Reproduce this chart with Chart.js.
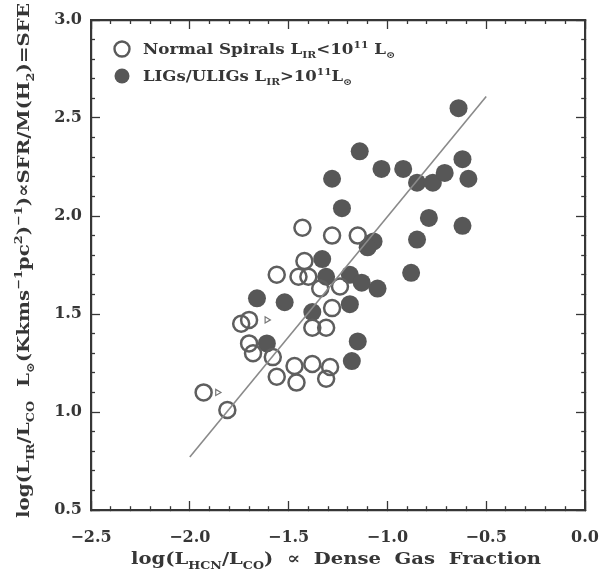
<!DOCTYPE html>
<html>
<head>
<meta charset="utf-8">
<script src="https://cdn.jsdelivr.net/npm/chart.js@4.4.1/dist/chart.umd.min.js"></script>
<style>
html,body{margin:0;padding:0;background:#fff;}
#wrap{width:601px;height:575px;position:relative;}
</style>
</head>
<body>
<div id="wrap"><canvas id="c" width="601" height="575"></canvas></div>
<script>
// ---- Data ----
const normalSpirals = [
  [-1.93,1.10],[-1.81,1.01],[-1.74,1.45],[-1.70,1.47],[-1.70,1.35],[-1.68,1.30],
  [-1.58,1.28],[-1.56,1.18],[-1.56,1.70],[-1.47,1.235],[-1.46,1.15],[-1.43,1.94],
  [-1.42,1.77],[-1.45,1.69],[-1.40,1.69],[-1.38,1.43],[-1.38,1.245],[-1.34,1.63],
  [-1.31,1.43],[-1.29,1.23],[-1.31,1.17],[-1.28,1.53],[-1.28,1.90],[-1.24,1.64],
  [-1.15,1.90]
];
const ligsUligs = [
  [-0.64,2.55],[-1.14,2.33],[-1.28,2.19],[-1.03,2.24],[-0.92,2.24],[-0.85,2.17],
  [-0.77,2.17],[-0.71,2.22],[-0.62,2.29],[-0.59,2.19],[-1.23,2.04],[-0.79,1.99],
  [-0.62,1.95],[-0.85,1.88],[-1.07,1.87],[-1.10,1.84],[-1.33,1.78],[-1.31,1.69],
  [-1.19,1.70],[-1.13,1.66],[-1.05,1.63],[-0.88,1.71],[-1.52,1.56],[-1.66,1.58],
  [-1.38,1.51],[-1.19,1.55],[-1.15,1.36],[-1.18,1.26],[-1.61,1.35]
];
const lowerLimits = [[-1.86,1.10],[-1.61,1.47]];
const fitLine = [[-2.0,0.77],[-0.5,2.61]];
const xTickValues = [-2.5,-2.0,-1.5,-1.0,-0.5,0.0];
const yTickValues = [0.5,1.0,1.5,2.0,2.5,3.0];
const xTitle = [{t:'log(L'},{t:'HCN',s:'sub'},{t:'/L'},{t:'CO',s:'sub'},{t:')  \u221D  Dense  Gas  Fraction'}];
const yTitle = [{t:'log(L'},{t:'IR',s:'sub'},{t:'/L'},{t:'CO',s:'sub'},{t:'  L'},{t:'\u2299',s:'sub'},
  {t:'(Kkms'},{t:'\u22121',s:'sup'},{t:'pc'},{t:'2',s:'sup'},{t:')'},{t:'\u22121',s:'sup'},
  {t:')\u221DSFR/M(H'},{t:'2',s:'sub'},{t:')=SFE'}];
const legendItems = [
  {filled:false, segs:[{t:'Normal Spirals L'},{t:'IR',s:'sub'},{t:'<10'},{t:'11',s:'sup'},{t:' L'},{t:'\u2299',s:'sub'}]},
  {filled:true, segs:[{t:'LIGs/ULIGs L'},{t:'IR',s:'sub'},{t:'>10'},{t:'11',s:'sup'},{t:'L'},{t:'\u2299',s:'sub'}]}
];

const FAMILY = '"DejaVu Serif", serif';
const INK = '#363636';
const toPts = a => a.map(p => ({x:p[0], y:p[1]}));
const round1 = v => Math.round(v * 10) / 10;
const isMajor = v => Math.abs(v * 2 - Math.round(v * 2)) < 1e-6;
const minorSteps = (lo, n) => Array.from({length: n + 1}, (_, i) => ({value: round1(lo + i * 0.1)}));

function segFont(seg, size){ return 'bold ' + (seg.s ? Math.round(size*0.62) : size) + 'px ' + FAMILY; }
function richWidth(ctx, segs, size){
  let w = 0;
  for (const s of segs){ ctx.font = segFont(s,size); w += ctx.measureText(s.t).width; }
  return w;
}
function drawRich(ctx, segs, size, targetW){
  const w = richWidth(ctx, segs, size);
  const sx = targetW ? targetW / w : 1;
  ctx.save();
  ctx.scale(sx, 1);
  let cx = 0;
  for (const s of segs){
    ctx.font = segFont(s,size);
    const dy = s.s === 'sub' ? size*0.32 : (s.s === 'sup' ? -size*0.42 : 0);
    ctx.fillText(s.t, cx, dy);
    cx += ctx.measureText(s.t).width;
  }
  ctx.restore();
}

const textPlugin = {
  id: 'texts',
  afterDraw(chart){
    const ctx = chart.ctx;
    ctx.save();
    ctx.textBaseline = 'alphabetic';
    ctx.textAlign = 'left';
    ctx.fillStyle = INK;
    ctx.save(); ctx.translate(131, 564); drawRich(ctx, xTitle, 17, 410); ctx.restore();
    ctx.save(); ctx.translate(29, 518); ctx.rotate(-Math.PI/2); drawRich(ctx, yTitle, 17, 515); ctx.restore();
    const rows = [{y:49, w:252},{y:76, w:209}];
    legendItems.forEach((it, i) => {
      const r = rows[i];
      ctx.beginPath();
      ctx.arc(122, r.y, 7.5, 0, Math.PI*2);
      if (it.filled){ ctx.fillStyle = '#575757'; ctx.fill(); }
      else { ctx.strokeStyle = '#5a5a5a'; ctx.lineWidth = 2.4; ctx.stroke(); }
      ctx.fillStyle = INK;
      ctx.save(); ctx.translate(143, r.y + 5); drawRich(ctx, it.segs, 14, r.w); ctx.restore();
    });
    ctx.restore();
  }
};

const fmt = v => (v < 0 ? '\u2212' : '') + Math.abs(v).toFixed(1);
const TICK_FONT = {family: FAMILY, size: 16, weight: 'bold'};

// tick marks pointing into the plot: major ticks 9px, minor ticks 5px (via dash)
function gridOpts(startsInside){
  return {
    display: true, drawOnChartArea: false, drawTicks: true, tickLength: -9,
    tickColor: INK, tickWidth: 1.3,
    tickBorderDash: c => (c.tick && isMajor(c.tick.value)) ? [] : [5, 100],
    tickBorderDashOffset: c => (c.tick && isMajor(c.tick.value)) ? 0 : (startsInside ? 100 : 0)
  };
}
const borderOpts = {display: true, color: INK, width: 2.2};

new Chart(document.getElementById('c'), {
  type: 'scatter',
  data: {
    datasets: [
      {label:'Fit', type:'line', data: toPts(fitLine), borderColor:'#8a8a8a', borderWidth:1.6,
       pointRadius:0, fill:false, order:0},
      {label:'Lower limits', data: toPts(lowerLimits), pointStyle:'triangle', rotation:90, pointRadius:3.5,
       backgroundColor:'rgba(0,0,0,0)', borderColor:'#777', borderWidth:1.2, order:1},
      {label:'Normal Spirals', data: toPts(normalSpirals), pointRadius:8, pointHoverRadius:8,
       backgroundColor:'rgba(255,255,255,0)', borderColor:'#5e5e5e', borderWidth:2.5, order:2},
      {label:'LIGs/ULIGs', data: toPts(ligsUligs), pointRadius:9, pointHoverRadius:9,
       backgroundColor:'#575757', borderColor:'#575757', borderWidth:0, order:3}
    ]
  },
  options: {
    responsive: false,
    animation: false,
    events: [],
    layout: {padding: {top: 20, right: 16, left: 0, bottom: 0}},
    plugins: {legend: {display:false}, tooltip: {enabled:false}},
    scales: {
      x: {
        type:'linear', position:'bottom', min:-2.5, max:0,
        afterBuildTicks: s => { s.ticks = minorSteps(-2.5, 25); },
        afterFit: s => { s.height = 65; s.paddingLeft = 0; s.paddingRight = 0; },
        grid: gridOpts(false),
        border: borderOpts,
        ticks: {callback: v => xTickValues.some(t => Math.abs(t - v) < 1e-6) ? fmt(v) : '',
                autoSkip: false, color: INK, padding: 27, maxRotation: 0, minRotation: 0, font: TICK_FONT}
      },
      xTop: {
        type:'linear', position:'top', min:-2.5, max:0,
        afterBuildTicks: s => { s.ticks = minorSteps(-2.5, 25); },
        afterFit: s => { s.height = 0; s.paddingLeft = 0; s.paddingRight = 0; },
        grid: gridOpts(true),
        border: borderOpts,
        ticks: {display: false, autoSkip: false}
      },
      y: {
        type:'linear', position:'left', min:0.5, max:3.0,
        afterBuildTicks: s => { s.ticks = minorSteps(0.5, 25); },
        afterFit: s => { s.width = 91; s.paddingTop = 0; s.paddingBottom = 0; },
        grid: gridOpts(true),
        border: borderOpts,
        ticks: {callback: v => yTickValues.some(t => Math.abs(t - v) < 1e-6) ? fmt(v) : '',
                autoSkip: false, color: INK, padding: 18, font: TICK_FONT}
      },
      yRight: {
        type:'linear', position:'right', min:0.5, max:3.0,
        afterBuildTicks: s => { s.ticks = minorSteps(0.5, 25); },
        afterFit: s => { s.width = 0; s.paddingTop = 0; s.paddingBottom = 0; },
        grid: gridOpts(false),
        border: borderOpts,
        ticks: {display: false, autoSkip: false}
      }
    }
  },
  plugins: [textPlugin]
});
</script>
</body>
</html>
